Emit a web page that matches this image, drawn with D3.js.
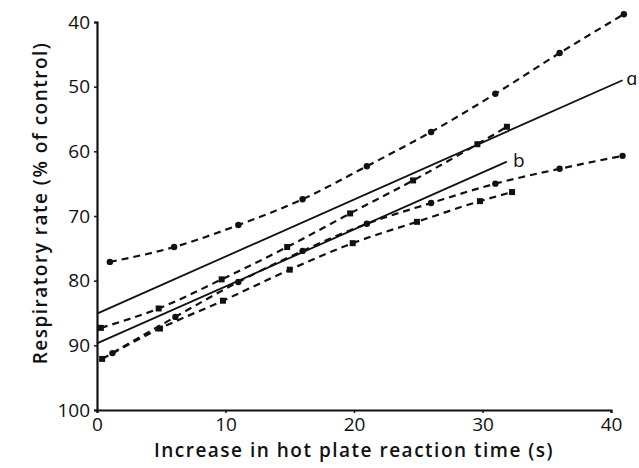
<!DOCTYPE html>
<html>
<head>
<meta charset="utf-8">
<script src="https://cdn.jsdelivr.net/npm/d3@7"></script>
<style>
  html, body { margin: 0; padding: 0; background: #fff; }
  svg { display: block; }
  text { font-family: "Open Sans", Lato, sans-serif; fill: #111; }
</style>
</head>
<body>
<svg id="chart" width="639" height="468"></svg>
<script>
// ---- data ----
const xTicks = [0, 10, 20, 30, 40];
const yTicks = [40, 50, 60, 70, 80, 90, 100];

const curve1X = [1, 6, 11, 16, 21, 26, 31, 36, 41];
const curve1Y = [77.1, 74.8, 71.4, 67.4, 62.3, 57.0, 51.1, 44.8, 38.8];

const curve2X = [0.3, 4.8, 9.7, 14.8, 19.7, 24.6, 29.6, 31.9];
const curve2Y = [87.3, 84.3, 79.8, 74.8, 69.6, 64.5, 58.9, 56.2];

const curve3X = [1.2, 6.1, 11, 16, 21, 26, 31, 36, 40.9];
const curve3Y = [91.2, 85.6, 80.2, 75.4, 71.2, 68.0, 65.0, 62.7, 60.7];

const curve4X = [0.4, 4.9, 9.8, 15, 19.9, 24.9, 29.8, 32.3];
const curve4Y = [92.1, 87.4, 83.1, 78.3, 74.2, 70.9, 67.7, 66.3];

const lineAX = [0, 40.9];
const lineAY = [85.1, 49.0];
const lineBX = [0, 31.9];
const lineBY = [89.7, 61.6];

const xTitle = "Increase in hot plate reaction time (s)";
const yTitle = "Respiratory rate (% of control)";

// ---- scales ----
const svg = d3.select("#chart");
const x = d3.scaleLinear().domain([0, 40]).range([97, 611]);
const y = d3.scaleLinear().domain([40, 100]).range([22, 410]);

// ---- axes ----
const xAxis = d3.axisBottom(x).tickValues(xTicks).tickSize(3).tickPadding(5).tickFormat(d3.format("d"));
const yAxis = d3.axisLeft(y).tickValues(yTicks).tickSize(3).tickPadding(4).tickFormat(d3.format("d"));

const gx = svg.append("g").attr("transform", `translate(0,${y(100)})`).call(xAxis);
const gy = svg.append("g").attr("transform", `translate(${x(0)},0)`).call(yAxis);
[gx, gy].forEach(g => {
  g.select(".domain").attr("stroke", "#111").attr("stroke-width", 2.2);
  g.selectAll(".tick line").attr("stroke", "#111").attr("stroke-width", 1.5);
  g.selectAll(".tick text").attr("font-size", 19).attr("fill", "#111")
    .style("font-family", "'Open Sans', Lato, sans-serif");
});

svg.append("text")
  .attr("x", (x(0) + x(40)) / 2).attr("y", 457)
  .attr("text-anchor", "middle").attr("font-size", 19).attr("font-weight", 600)
  .attr("letter-spacing", 1.5)
  .text(xTitle);

svg.append("text")
  .attr("transform", `translate(47,${(y(40) + y(100)) / 2 - 13}) rotate(-90)`)
  .attr("text-anchor", "middle").attr("font-size", 19).attr("font-weight", 600)
  .attr("letter-spacing", 1.5)
  .text(yTitle);

// ---- lines ----
const line = d3.line().x(d => x(d[0])).y(d => y(d[1]));
const curve = d3.line().x(d => x(d[0])).y(d => y(d[1])).curve(d3.curveMonotoneX);
const zip = (a, b) => a.map((v, i) => [v, b[i]]);

function solid(xs, ys) {
  svg.append("path").datum(zip(xs, ys)).attr("d", line)
    .attr("fill", "none").attr("stroke", "#111").attr("stroke-width", 1.8);
}
solid(lineAX, lineAY);
solid(lineBX, lineBY);

svg.append("text").attr("x", x(lineAX[1]) + 4).attr("y", y(lineAY[1]) + 5)
  .attr("font-size", 19).text("ɑ");
svg.append("text").attr("x", x(lineBX[1]) + 6).attr("y", y(lineBY[1]) + 5)
  .attr("font-size", 19).text("b");

function dashed(xs, ys, marker) {
  const pts = zip(xs, ys);
  svg.append("path").datum(pts).attr("d", curve)
    .attr("fill", "none").attr("stroke", "#111").attr("stroke-width", 2.2)
    .attr("stroke-dasharray", "7,5");
  if (marker === "circle") {
    svg.append("g").selectAll("circle").data(pts).join("circle")
      .attr("cx", d => x(d[0])).attr("cy", d => y(d[1])).attr("r", 3.2).attr("fill", "#111");
  } else {
    svg.append("g").selectAll("rect").data(pts).join("rect")
      .attr("x", d => x(d[0]) - 3).attr("y", d => y(d[1]) - 3)
      .attr("width", 6).attr("height", 6).attr("fill", "#111");
  }
}
dashed(curve1X, curve1Y, "circle");
dashed(curve2X, curve2Y, "square");
dashed(curve3X, curve3Y, "circle");
dashed(curve4X, curve4Y, "square");
</script>
</body>
</html>
